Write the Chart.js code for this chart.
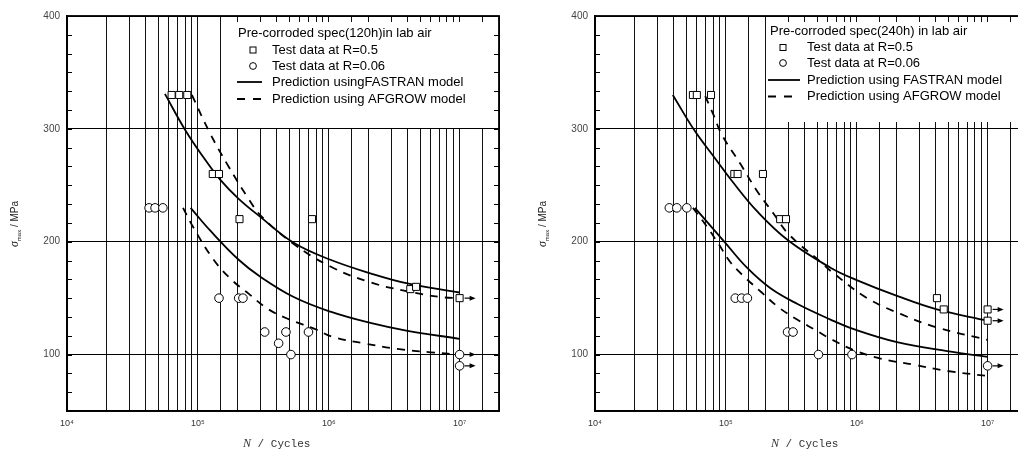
<!DOCTYPE html>
<html>
<head>
<meta charset="utf-8">
<script src="https://cdn.jsdelivr.net/npm/chart.js@4/dist/chart.umd.min.js"></script>
<style>
  html, body { margin: 0; padding: 0; background: #fff; overflow: hidden; }
  .wrap { position: absolute; top: 0; width: 509px; height: 451px; }
  #wrapL { left: 0; }
  #wrapR { left: 528px; }
</style>
</head>
<body>
<div class="wrap" id="wrapL"><canvas id="chartL" width="509" height="451"></canvas></div>
<div class="wrap" id="wrapR"><canvas id="chartR" width="509" height="451"></canvas></div>
<script>
// axis labels
const cycle_decades = [1e4, 1e5, 1e6, 1e7];
const stress_labels = [100, 200, 300, 400];
const sup_digits = { 4: "\u2074", 5: "\u2075", 6: "\u2076", 7: "\u2077" };

// ---- 120h panel (left) ----
const sq120_N = [6.3e4, 7.2e4, 8.3e4, 1.3e5, 1.45e5, 2.08e5, 7.45e5, 4.2e6, 4.65e6, 1e7];
const sq120_S = [330, 330, 330, 260, 260, 220, 220, 158, 160, 150];
const ci120_N = [4.24e4, 4.71e4, 5.4e4, 1.45e5, 2.05e5, 2.21e5, 3.24e5, 4.14e5, 4.71e5, 5.14e5, 7.0e5, 1e7, 1e7];
const ci120_S = [230, 230, 230, 150, 150, 150, 120, 110, 120, 100, 120, 100, 90];

const fas05_120_N = [5.6e4, 8.0e4, 1.1e5, 1.48e5, 2.05e5, 3.0e5, 5.4e5, 1.03e6, 2.08e6, 4.0e6, 1e7];
const fas05_120_S = [331, 299, 275, 255, 238, 222, 199, 184, 172, 163, 155];
const afg05_120_N = [9.0e4, 1.24e5, 1.67e5, 2.44e5, 3.09e5, 5.4e5, 1.03e6, 2.08e6, 4.0e6, 7.1e6, 1e7];
const afg05_120_S = [330, 296, 269, 238, 222, 198, 178, 164, 156, 151, 150];
const fas006_120_N = [8.8e4, 1.24e5, 2.05e5, 3.0e5, 5.4e5, 1.03e6, 2.08e6, 4.0e6, 1e7];
const fas006_120_S = [230, 210, 184, 169, 151, 138, 128, 121, 114];
const afg006_120_N = [7.7e4, 9.2e4, 1.32e5, 1.82e5, 2.44e5, 3.37e5, 4.8e5, 8.1e5, 1.05e6, 1.85e6, 3.33e6, 6.0e6, 1e7];
const afg006_120_S = [230, 213, 184, 166, 154, 141, 132, 122, 116, 110, 105, 102, 100];

// ---- 240h panel (right) ----
const sq240_N = [5.6e4, 6.0e4, 7.7e4, 1.16e5, 1.23e5, 1.92e5, 2.6e5, 2.88e5, 4.1e6, 4.62e6, 1e7, 1e7];
const sq240_S = [330, 330, 330, 260, 260, 260, 220, 220, 150, 140, 140, 130];
const ci240_N = [3.7e4, 4.22e4, 5.03e4, 1.18e5, 1.32e5, 1.46e5, 2.96e5, 3.26e5, 5.1e5, 9.2e5, 1e7];
const ci240_S = [230, 230, 230, 150, 150, 150, 120, 120, 100, 100, 90];

const fas05_240_N = [3.93e4, 5.8e4, 8.5e4, 1.11e5, 1.73e5, 3.0e5, 6.3e5, 1.0e6, 2.03e6, 4.1e6, 1e7];
const fas05_240_S = [330, 298, 272, 254, 227, 201, 177, 166, 152, 140, 130];
const afg05_240_N = [6.95e4, 8.0e4, 9.3e4, 1.29e5, 1.73e5, 2.31e5, 3.0e5, 5.3e5, 6.65e5, 1.2e6, 2.16e6, 4.1e6, 1e7];
const afg05_240_S = [329, 313, 295, 269, 245, 225, 207, 182, 172, 150, 136, 124, 113];
const fas006_240_N = [5.8e4, 9.9e4, 1.45e5, 2.18e5, 3.5e5, 6.3e5, 9.5e5, 2.03e6, 4.9e6, 1e7];
const fas006_240_S = [230, 199, 177, 159, 145, 131, 122.5, 111, 103, 98];
const afg006_240_N = [5.6e4, 7.2e4, 8.8e4, 1.08e5, 1.41e5, 1.88e5, 2.52e5, 3.5e5, 4.8e5, 6.3e5, 9.5e5, 1.52e6, 2.73e6, 4.9e6, 1e7];
const afg006_240_S = [230, 213, 198, 182, 168, 155, 142, 131, 122, 114, 104, 96.5, 91, 85.5, 81];

const legend120 = ["Pre-corroded spec(120h)in lab air", "Test data at R=0.5", "Test data at R=0.06",
                   "Prediction usingFASTRAN model", "Prediction using AFGROW model"];
const legend240 = ["Pre-corroded spec(240h) in lab air", "Test data at R=0.5", "Test data at R=0.06",
                   "Prediction using FASTRAN model", "Prediction using AFGROW model"];

function pts(xs, ys) {
  return xs.map((x, i) => ({ x: x, y: ys[i] }));
}

function near(v, w) { return Math.abs(v - w) < 1e-6 * Math.max(1, Math.abs(w)); }

const SANS = '"Liberation Sans", Arial, sans-serif';

// arrows for run-out points (N at 1e7)
const runoutArrows = {
  id: 'runoutArrows',
  afterDatasetsDraw(chart) {
    const ctx = chart.ctx;
    ctx.save();
    ctx.strokeStyle = '#000';
    ctx.fillStyle = '#000';
    ctx.lineWidth = 1.2;
    chart.data.datasets.forEach((ds, di) => {
      if (!ds.runout) return;
      const meta = chart.getDatasetMeta(di);
      meta.data.forEach((p, i) => {
        if (ds.data[i].x < 1e7) return;
        const x0 = p.x + 5, x1 = p.x + 16;
        ctx.beginPath();
        ctx.moveTo(x0, p.y);
        ctx.lineTo(x1 - 4, p.y);
        ctx.stroke();
        ctx.beginPath();
        ctx.moveTo(x1, p.y);
        ctx.lineTo(x1 - 6, p.y - 2.5);
        ctx.lineTo(x1 - 6, p.y + 2.5);
        ctx.closePath();
        ctx.fill();
      });
    });
    ctx.restore();
  }
};

// legend box, frame, inward ticks and axis titles
const panelDecor = {
  id: 'panelDecor',
  afterDraw(chart, args, opts) {
    const ctx = chart.ctx;
    const a = chart.chartArea;
    const L = opts.legend;
    ctx.save();

    // legend
    ctx.fillStyle = '#fff';
    ctx.fillRect(a.left + L.boxX, a.top + 6, a.right - 2 - (a.left + L.boxX), L.boxH);
    ctx.fillStyle = '#000';
    ctx.strokeStyle = '#000';
    ctx.font = '13px ' + SANS;
    ctx.textBaseline = 'middle';
    ctx.fillText(L.texts[0], a.left + L.titleX, a.top + L.rows[0]);
    for (let i = 1; i < 5; i++) {
      ctx.fillText(L.texts[i], a.left + L.textX, a.top + L.rows[i]);
    }
    const mx = a.left + L.markX;
    ctx.lineWidth = 1;
    ctx.strokeRect(mx - 3, a.top + L.rows[1] - 3, 6, 6);
    ctx.beginPath();
    ctx.arc(mx, a.top + L.rows[2], 3.4, 0, Math.PI * 2);
    ctx.stroke();
    ctx.lineWidth = 1.8;
    ctx.beginPath();
    ctx.moveTo(a.left + L.lineX0, a.top + L.rows[3]);
    ctx.lineTo(a.left + L.lineX1, a.top + L.rows[3]);
    ctx.stroke();
    ctx.setLineDash([8, 8]);
    ctx.beginPath();
    ctx.moveTo(a.left + L.lineX0, a.top + L.rows[4]);
    ctx.lineTo(a.left + L.lineX1, a.top + L.rows[4]);
    ctx.stroke();
    ctx.setLineDash([]);

    // inward minor ticks on left and right axes
    const ys = chart.scales.y;
    ctx.lineWidth = 1;
    ys.ticks.forEach((t) => {
      const py = Math.round(ys.getPixelForValue(t.value)) + 0.5;
      ctx.beginPath();
      ctx.moveTo(a.left, py);
      ctx.lineTo(a.left + 5, py);
      ctx.moveTo(a.right, py);
      ctx.lineTo(a.right - 5, py);
      ctx.stroke();
    });

    // frame
    ctx.lineWidth = 1.8;
    ctx.strokeRect(a.left, a.top, a.right - a.left, a.bottom - a.top);

    // y title: sigma_max / MPa
    ctx.translate(a.left - 53, a.top + 208);
    ctx.rotate(-Math.PI / 2);
    ctx.textBaseline = 'alphabetic';
    ctx.font = 'italic 12px "Liberation Serif", serif';
    const w1 = ctx.measureText('\u03c3').width;
    ctx.font = '6px ' + SANS;
    const w2 = ctx.measureText('max').width;
    ctx.font = '10px ' + SANS;
    const w3 = ctx.measureText(' / MPa').width;
    let sx = -(w1 + w2 + w3) / 2;
    ctx.fillStyle = '#222';
    ctx.font = 'italic 12px "Liberation Serif", serif';
    ctx.fillText('\u03c3', sx, 4);
    ctx.font = '6px ' + SANS;
    ctx.fillText('max', sx + w1, 7);
    ctx.font = '10px ' + SANS;
    ctx.fillText(' / MPa', sx + w1 + w2, 4);
    ctx.restore();

    // x title: N / Cycles
    ctx.save();
    ctx.fillStyle = '#333';
    ctx.textBaseline = 'alphabetic';
    ctx.font = 'italic 12px "Liberation Serif", serif';
    const nx = a.left + 176;
    ctx.fillText('N', nx, 447);
    const wn = ctx.measureText('N').width;
    ctx.font = '11px "Liberation Mono", monospace';
    ctx.fillText(' / Cycles', nx + wn, 447);
    ctx.restore();
  }
};

function markerSet(label, data, style, radius) {
  return {
    label: label,
    data: data,
    showLine: false,
    pointStyle: style,
    pointRadius: radius,
    pointBorderColor: '#000',
    pointBackgroundColor: '#fff',
    pointBorderWidth: 1,
    runout: true
  };
}

function curveSet(label, data, dashed) {
  return {
    label: label,
    data: data,
    showLine: true,
    borderColor: '#000',
    borderWidth: 1.8,
    borderDash: dashed ? [8, 7] : [],
    pointRadius: 0,
    tension: 0.4,
    fill: false
  };
}

function makeChart(canvasId, datasets, legendOpts) {
  const ctx = document.getElementById(canvasId).getContext('2d');
  return new Chart(ctx, {
    type: 'scatter',
    data: { datasets: datasets },
    options: {
      responsive: false,
      animation: false,
      layout: { padding: { left: 0, right: 10, top: 16, bottom: 0 } },
      plugins: {
        legend: { display: false },
        tooltip: { enabled: false },
        panelDecor: { legend: legendOpts }
      },
      scales: {
        x: {
          type: 'logarithmic',
          min: 1e4,
          max: 2e7,
          afterFit: (s) => { s.height = 40; },
          border: { display: true, color: '#000', width: 1.8 },
          grid: { color: '#111', lineWidth: 1, drawTicks: false },
          ticks: {
            autoSkip: false,
            maxRotation: 0,
            padding: 7,
            color: '#333',
            font: { size: 9, family: SANS },
            callback: (v) => {
              const d = cycle_decades.find((c) => near(v, c));
              return d ? '10' + sup_digits[Math.round(Math.log10(d))] : '';
            }
          }
        },
        y: {
          min: 50,
          max: 400,
          afterFit: (s) => { s.width = 67; },
          border: { display: true, color: '#000', width: 1.8 },
          grid: {
            drawTicks: false,
            lineWidth: 1,
            color: (c) => {
              const v = c.tick ? c.tick.value : 0;
              return stress_labels.some((s) => near(v, s)) ? '#000' : 'rgba(0,0,0,0)';
            }
          },
          ticks: {
            stepSize: 100 / 6,
            autoSkip: false,
            padding: 7,
            color: '#444',
            font: { size: 10, family: SANS },
            callback: (v) => {
              const s = stress_labels.find((l) => Math.abs(v - l) < 0.01);
              return s ? String(s) : '';
            }
          }
        }
      }
    },
    plugins: [runoutArrows, panelDecor]
  });
}

makeChart('chartL', [
  markerSet('Test data at R=0.5', pts(sq120_N, sq120_S), 'rect', 5),
  markerSet('Test data at R=0.06', pts(ci120_N, ci120_S), 'circle', 4.3),
  curveSet('FASTRAN R=0.5', pts(fas05_120_N, fas05_120_S), false),
  curveSet('AFGROW R=0.5', pts(afg05_120_N, afg05_120_S), true),
  curveSet('FASTRAN R=0.06', pts(fas006_120_N, fas006_120_S), false),
  curveSet('AFGROW R=0.06', pts(afg006_120_N, afg006_120_S), true)
], {
  texts: legend120,
  boxX: 166, boxH: 106,
  titleX: 171, textX: 205, markX: 186, lineX0: 170, lineX1: 195,
  rows: [17, 34, 50, 66, 83]
});

makeChart('chartR', [
  markerSet('Test data at R=0.5', pts(sq240_N, sq240_S), 'rect', 5),
  markerSet('Test data at R=0.06', pts(ci240_N, ci240_S), 'circle', 4.3),
  curveSet('FASTRAN R=0.5', pts(fas05_240_N, fas05_240_S), false),
  curveSet('AFGROW R=0.5', pts(afg05_240_N, afg05_240_S), true),
  curveSet('FASTRAN R=0.06', pts(fas006_240_N, fas006_240_S), false),
  curveSet('AFGROW R=0.06', pts(afg006_240_N, afg006_240_S), true)
], {
  texts: legend240,
  boxX: 171, boxH: 100,
  titleX: 175, textX: 212, markX: 188, lineX0: 173, lineX1: 205,
  rows: [15, 31.5, 47, 64, 80.5]
});
</script>
</body>
</html>
